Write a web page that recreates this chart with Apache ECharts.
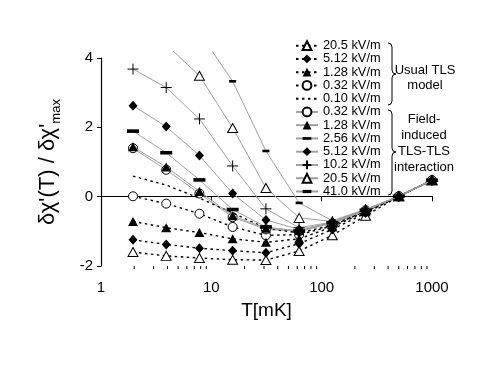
<!DOCTYPE html>
<html><head><meta charset="utf-8">
<script src="https://cdn.jsdelivr.net/npm/echarts@6/dist/echarts.min.js"></script>
<style>html,body{margin:0;padding:0;background:#fff}#c{width:496px;height:365px}</style>
</head><body><div id="c"></div>
<script>
// Temperatures (mK)
const temps = [1.95, 3.9, 7.8, 15.6, 31.25, 62.5, 125, 250, 500, 1000];
// Usual TLS model (dotted)
const u205 = [-1.6, -1.71, -1.77, -1.82, -1.83, -1.57, -1.12, -0.56, 0.0, 0.46];
const u512 = [-1.25, -1.38, -1.49, -1.56, -1.62, -1.36, -0.95, -0.48, 0.0, 0.46];
const u128 = [-0.72, -0.9, -1.04, -1.22, -1.32, -1.22, -0.88, -0.44, 0.0, 0.46];
const u032 = [0.0, -0.21, -0.5, -0.88, -1.12, -1.1, -0.85, -0.42, 0.0, 0.46];
const u010 = [0.58, 0.32, -0.05, -0.48, -0.92, -1.05, -0.83, -0.41, 0.0, 0.46];
// Field-induced TLS-TLS interaction (solid)
const f032 = [1.38, 0.76, 0.08, -0.6, -0.95, -1.0, -0.78, -0.4, 0.0, 0.46];
const f128 = [1.42, 0.84, 0.14, -0.56, -0.92, -0.98, -0.77, -0.4, 0.0, 0.46];
const f256 = [1.87, 1.25, 0.47, -0.38, -0.88, -1.0, -0.76, -0.4, 0.0, 0.46];
const f512 = [2.6, 2.0, 1.17, 0.08, -0.68, -0.95, -0.75, -0.39, 0.0, 0.46];
const f102 = [3.65, 3.12, 2.22, 0.87, -0.36, -0.9, -0.74, -0.38, 0.0, 0.46];
const f205 = [null, 4.35, 3.46, 1.96, 0.24, -0.62, -0.72, -0.38, 0.0, 0.46];
const f410 = [null, null, 4.7, 3.3, 1.3, -0.19, -0.7, -0.37, 0.0, 0.46];
// Legend labels
const labels = ['20.5 kV/m','5.12 kV/m','1.28 kV/m','0.32 kV/m','0.10 kV/m',
                '0.32 kV/m','1.28 kV/m','2.56 kV/m','5.12 kV/m','10.2 kV/m','20.5 kV/m','41.0 kV/m'];
// Axis ticks
const yTicks = [-2, 0, 2, 4];
const xMinorTicks = [2,3,4,5,6,7,8,9,20,30,40,50,60,70,80,90,200,300,400,500,600,700,800,900];

const FONT = 'Liberation Sans, Arial, sans-serif';
const PLUS = 'path://M0,5L10,5M5,0L5,10';
// dash glyphs inside a square box (so they keep their shape in the legend too)
const BAR = 'path://M0,0L0,0M0,4.2L12,4.2L12,7.8L0,7.8ZM12,12L12,12';
const SBAR = 'path://M0,0L0,0M0,2.2L7,2.2L7,4.8L0,4.8ZM7,7L7,7';

// kind: 'open' = white fill + black outline, 'fill' = black, 'stroke' = outline only, 'none'
const specs = [
  {key:'u0', d:u205, sym:'triangle', size:[10,9], kind:'open', dotted:true},
  {key:'u1', d:u512, sym:'diamond', size:[9,10], kind:'fill', dotted:true},
  {key:'u2', d:u128, sym:'triangle', size:[10,9], kind:'fill', dotted:true},
  {key:'u3', d:u032, sym:'circle', size:9, kind:'open', dotted:true},
  {key:'u4', d:u010, sym:'circle', size:0, kind:'none', dotted:true},
  {key:'f0', d:f032, sym:'circle', size:9, kind:'open'},
  {key:'f1', d:f128, sym:'triangle', size:[10,9], kind:'fill'},
  {key:'f2', d:f256, sym:BAR, size:12, kind:'fill'},
  {key:'f3', d:f512, sym:'diamond', size:[9,10], kind:'fill'},
  {key:'f4', d:f102, sym:PLUS, size:11, kind:'stroke'},
  {key:'f5', d:f205, sym:'triangle', size:[10,9], kind:'open'},
  {key:'f6', d:f410, sym:SBAR, size:7, kind:'fill'}
];
function itemStyleOf(kind) {
  if (kind === 'open') return {color:'#fff', borderColor:'#000', borderWidth:1};
  if (kind === 'stroke') return {color:'#000', borderColor:'#000', borderWidth:1};
  if (kind === 'none') return {color:'rgba(0,0,0,0)', borderColor:'rgba(0,0,0,0)', borderWidth:0};
  return {color:'#000', borderColor:'#000', borderWidth:0};
}
const nameMap = {};
const series = specs.map((s, i) => {
  nameMap[s.key] = labels[i];
  return {
    name: s.key, type: 'line', xAxisIndex: 0, yAxisIndex: 0,
    data: temps.map((t, j) => [t, s.d[j]]),
    symbol: s.sym, symbolSize: s.size,
    showSymbol: s.kind !== 'none',
    lineStyle: s.dotted ? {color:'#000', width:1.4, type:[2.5,3.5]} : {color:'#a0a0a0', width:1},
    itemStyle: itemStyleOf(s.kind),
    z: s.kind === 'open' ? 2 : 3,
    connectNulls: false
  };
});
series.push({
  type:'custom', xAxisIndex:0, yAxisIndex:0, silent:true, clip:false,
  data: xMinorTicks.map(v => [v, -2]),
  renderItem: (params, api) => {
    const p = api.coord([api.value(0), api.value(1)]);
    return {type:'line', shape:{x1:p[0], y1:p[1], x2:p[0], y2:p[1]+3}, style:{stroke:'#000', lineWidth:1}};
  }
});

// curly brace built from curves and lines
function brace(x, top, mid, bot) {
  const st = {stroke:'#000', fill:null, lineWidth:1};
  const w = 4, r = 4;
  return [
    {type:'bezierCurve', shape:{x1:x, y1:top, x2:x+w, y2:top+r, cpx1:x+w, cpy1:top}, style:st},
    {type:'line', shape:{x1:x+w, y1:top+r, x2:x+w, y2:mid-r}, style:st},
    {type:'bezierCurve', shape:{x1:x+w, y1:mid-r, x2:x+2*w, y2:mid, cpx1:x+w, cpy1:mid}, style:st},
    {type:'bezierCurve', shape:{x1:x+2*w, y1:mid, x2:x+w, y2:mid+r, cpx1:x+w, cpy1:mid}, style:st},
    {type:'line', shape:{x1:x+w, y1:mid+r, x2:x+w, y2:bot-r}, style:st},
    {type:'bezierCurve', shape:{x1:x+w, y1:bot-r, x2:x, y2:bot, cpx1:x+w, cpy1:bot}, style:st}
  ];
}

const chart = echarts.init(document.getElementById('c'));
chart.setOption({
  animation:false,
  backgroundColor:'#fff',
  grid:[
    {left:101, right:64, top:52, bottom:99},
    {left:101, right:64, top:58, bottom:99}
  ],
  xAxis:[
    {gridIndex:0, type:'log', logBase:10, min:1, max:1000,
     axisLine:{lineStyle:{color:'#000', width:1.2}},
     axisTick:{inside:false, length:5, lineStyle:{color:'#000'}},
     axisLabel:{color:'#000', fontSize:15, fontFamily:FONT, margin:14, formatter: v => String(v)},
     splitLine:{show:false},
     name:'T[mK]', nameLocation:'middle', nameGap:35,
     nameTextStyle:{color:'#000', fontSize:19, fontFamily:FONT}},
    {gridIndex:1, type:'log', logBase:10, min:1, max:1000, show:false}
  ],
  yAxis:[
    {gridIndex:0, type:'value', min:-2, max:4.14, show:false, splitLine:{show:false}},
    {gridIndex:1, type:'value', min:yTicks[0], max:yTicks[yTicks.length-1], interval:2,
     axisLine:{show:true, lineStyle:{color:'#000', width:1.2}},
     axisTick:{show:true, inside:false, length:4, lineStyle:{color:'#000'}},
     axisLabel:{color:'#000', fontSize:15, fontFamily:FONT, margin:8},
     splitLine:{show:false},
     name:"δχ'(T) / δχ'{s|max}", nameLocation:'middle', nameGap:38,
     nameTextStyle:{color:'#000', fontSize:22, fontFamily:FONT,
       rich:{s:{fontSize:13, fontFamily:FONT, color:'#000', padding:[18,0,0,0]}}}}
  ],
  legend:{
    orient:'vertical', left:295, top:39, padding:0, itemGap:0, itemWidth:22, itemHeight:11,
    data: specs.map(s => s.key),
    formatter: n => nameMap[n],
    textStyle:{color:'#000', fontSize:12.8, lineHeight:13.26, fontFamily:FONT}
  },
  graphic:[].concat(
    brace(388, 43, 74, 105),
    brace(388, 110, 152, 195),
    [
      {type:'text', x:425, y:77.5, style:{text:'Usual TLS\nmodel', fontSize:13, fontFamily:FONT, fill:'#000', align:'center', verticalAlign:'middle', lineHeight:15}},
      {type:'text', x:424, y:143, style:{text:'Field-\ninduced\nTLS-TLS\ninteraction', fontSize:13, fontFamily:FONT, fill:'#000', align:'center', verticalAlign:'middle', lineHeight:16}}
    ]),
  series: series
});
</script></body></html>
